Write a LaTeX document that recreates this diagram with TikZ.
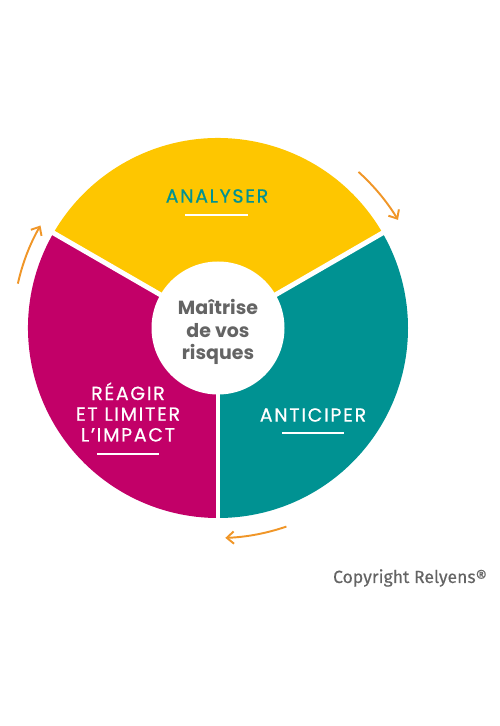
\documentclass[tikz,border=0pt]{standalone}
\usepackage{fontspec}
\setmainfont{Poppins}
\newfontfamily\etapefont{Poppins}[LetterSpace=9,FakeBold=0.6]
\newfontfamily\copyfont{Fira Sans}[FakeBold=0.4]
\usetikzlibrary{arrows.meta}
\definecolor{jaune}{RGB}{254,198,0}
\definecolor{sarcelle}{RGB}{0,146,146}
\definecolor{framboise}{RGB}{194,0,104}
\definecolor{orange}{RGB}{240,150,40}
\definecolor{gris}{RGB}{100,100,100}
\tikzset{
  etape/.style={font=\etapefont\fontsize{10.8}{11.8}\selectfont,align=center,inner sep=0pt},
  trait/.style={line width=1.1pt},
  separe/.style={white,line width=2.8pt},
  fleche/.style={orange,line width=1.1pt,-{Straight Barb[length=4pt,width=7pt]}}
}

\begin{document}
\begin{tikzpicture}
\useasboundingbox (-4.36,6.56) rectangle (5.64,-7.96);
\fill[jaune] (0,0) -- (30:3.8) arc (30:150:3.8) -- cycle;
\fill[sarcelle] (0,0) -- (-90:3.8) arc (-90:30:3.8) -- cycle;
\fill[framboise] (0,0) -- (150:3.8) arc (150:270:3.8) -- cycle;
\draw[separe] (0,0) -- (30:3.9);
\draw[separe] (0,0) -- (150:3.9);
\draw[separe] (0,0) -- (270:3.9);
\fill[white] (0,0) circle (1.33);
\node[font=\bfseries\fontsize{10.8}{13}\selectfont,text=gris,align=center] (centre) at (0,-0.08) {Maîtrise\\de vos\\risques};
\node[etape,text=sarcelle] (analyser) at (-0.02,2.64) {ANALYSER};
\draw[trait,white] (-0.66,2.26) -- (0.6,2.26);
\node[etape,text=white] (anticiper) at (1.9,-1.74) {ANTICIPER};
\draw[trait,white] (1.28,-2.1) -- (2.52,-2.1);
\node[etape,text=white] (reagir) at (-1.8,-1.68) {RÉAGIR\\ET LIMITER\\L’IMPACT};
\draw[trait,white] (-2.42,-2.52) -- (-1.18,-2.52);
\draw[fleche] (167.5:4.1) arc (167.5:150:4.1);
\draw[fleche] (48:4.2) arc (48:31:4.2);
\draw[fleche] (-71:4.2) arc (-71:-88:4.2);
\node[font=\copyfont\fontsize{10}{12}\selectfont,text=gris,inner sep=0pt] (copyright) at (3.84,-5.0) {Copyright Relyens®};
\end{tikzpicture}
\end{document}
